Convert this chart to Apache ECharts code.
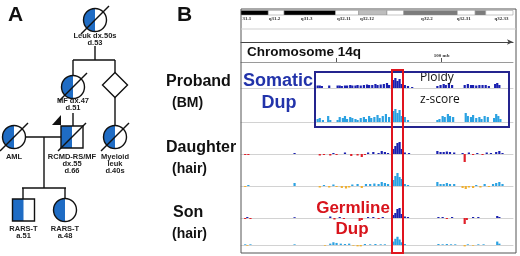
<!DOCTYPE html>
<html>
<head>
<meta charset="utf-8">
<script src="https://cdn.jsdelivr.net/npm/echarts@6/dist/echarts.min.js"></script>
<style>
  html, body { margin: 0; padding: 0; background: #fff; }
  #chart { width: 520px; height: 256px; }
</style>
</head>
<body>
<div id="chart"></div>
<script>
// window of chromosome 14q shown in panel B, in Mb
const xMin = 80.9, xMax = 106.8;

// cytobands [start, end, stain]
const bands = [
  [80.9, 83.5, 'black'], [83.5, 85.0, 'white'], [85.0, 89.9, 'black'],
  [89.9, 92.1, 'white'], [92.1, 94.8, 'light'], [94.8, 96.4, 'white'],
  [96.4, 101.5, 'dark'], [101.5, 103.2, 'white'], [103.2, 104.2, 'dark'],
  [104.2, 106.8, 'white']
];
const bandLabels = [
  [81.45, '31.1'], [84.1, 'q31.2'], [87.15, 'q31.3'], [90.7, 'q32.11'],
  [92.9, 'q32.12'], [98.6, 'q32.2'], [102.1, 'q32.31'], [105.7, 'q32.33']
];
const axisTicks = [90, 100];
const axisTickLabels = [100];

// copy-number tracks: [Mb, signal]
const probandPloidy = [
  [88.2,2.5],[88.4,2.5],[88.6,2],[89.3,2.5],[90.1,2.5],[90.3,2.5],[90.5,2],[90.8,2.5],[91.0,2.5],[91.3,3],
  [91.5,2.5],[91.8,2.5],[92.0,3],[92.3,2.5],[92.6,3],[92.9,3.5],[93.1,3],[93.4,3],[93.7,4],[93.9,3],
  [94.2,3.5],[94.5,4],[94.8,5],[95.0,3],[95.4,8],[95.6,10],[95.8,7],[96.0,9],[96.2,4],[96.5,3],
  [96.8,2],[97.2,1],[99.6,2],[99.9,3],[100.2,4],[100.4,3],[100.7,5],[101.0,3],[102.2,3],[102.5,4],
  [102.8,3],[103.0,3],[103.3,2.5],[103.6,3],[103.9,3],[104.2,3],[104.5,2],[105.1,4],[105.3,5],[105.5,3]
];
const probandZ = [
  [88.2,3],[88.4,4],[88.7,2],[89.2,6],[89.4,2],[90.1,2],[90.3,5],[90.6,4],[90.8,6],[91.0,3],
  [91.3,5],[91.5,4],[91.8,3],[92.0,2],[92.3,4],[92.6,5],[92.8,3],[93.1,6],[93.3,4],[93.6,5],
  [93.9,7],[94.1,4],[94.4,6],[94.7,8],[95.0,5],[95.4,11],[95.6,13],[95.8,9],[96.0,12],[96.2,6],
  [96.5,5],[96.8,2],[99.6,2],[99.8,3],[100.1,6],[100.3,5],[100.6,8],[100.8,6],[101.1,5],[102.3,9],
  [102.5,6],[102.8,5],[103.0,7],[103.3,4],[103.6,5],[103.8,3],[104.1,6],[104.4,5],[105.0,4],[105.2,8],
  [105.4,6],[105.6,3]
];
const daughterPloidy = [
  [81.3,-1],[81.6,-1],[86.0,1],[88.4,-1.5],[88.8,-1],[89.4,-1.5],[89.7,1],[90.0,-1],[90.8,1.5],[91.4,-2],
  [92.0,-1.5],[92.4,-3],[92.7,-1],[93.0,1.5],[93.5,2],[94.0,1],[94.3,3],[94.6,2],[94.9,1],[95.4,5],
  [95.6,8],[95.8,11],[96.0,12],[96.2,5],[96.5,1.5],[96.9,1],[99.6,3],[99.9,2],[100.2,2],[100.5,2.5],
  [100.8,2],[101.2,1.5],[102.0,1],[102.2,-8],[102.6,1.5],[103.0,-1],[103.4,1],[103.9,-1],[104.3,1.5],[104.7,1],
  [105.2,2],[105.5,3],[105.8,1]
];
const daughterZ = [
  [81.3,-1],[81.6,1],[86.0,3],[88.4,-1.5],[88.8,1],[89.3,-1.5],[89.7,1.5],[90.0,-1],[90.5,-2],[90.9,-2.5],
  [91.2,-1.5],[91.5,1.5],[92.0,2],[92.4,-2],[92.8,2],[93.2,2],[93.6,2.5],[94.0,2],[94.3,4],[94.6,3],
  [94.9,2],[95.4,6],[95.6,10],[95.8,13],[96.0,9],[96.2,7],[96.5,2],[96.8,1],[99.6,4],[99.9,2],
  [100.2,2],[100.5,3],[100.8,2],[101.2,2],[102.0,-2],[102.3,-3],[102.6,-1.5],[103.0,-2],[103.3,1],[103.7,-1.5],
  [104.1,2],[104.5,-1],[104.9,2],[105.2,3],[105.5,4],[105.8,2]
];
const sonPloidy = [
  [81.3,-1],[81.5,1],[81.8,-1],[86.0,0.8],[89.4,1.5],[89.8,-1.5],[90.3,1],[90.7,-1],[92.2,-3],[92.4,-2],
  [93.0,1],[93.5,1],[94.0,-1],[94.4,1],[95.4,3],[95.6,5],[95.8,9],[96.0,10],[96.2,4],[96.5,1.5],
  [96.8,1],[99.7,1],[100.1,1],[100.5,-1],[101.0,1],[102.2,-6],[102.4,-2],[103.0,1],[103.5,1],[105.3,2],
  [105.5,1]
];
const sonZ = [
  [81.3,1],[81.5,-1],[81.8,1],[86.0,1],[88.9,-1],[89.4,2],[89.7,4],[90.0,3],[90.4,2],[90.8,1.5],
  [91.2,2],[91.6,-1],[92.0,-2],[92.3,-2],[92.7,1.5],[93.2,1],[93.7,1.5],[94.2,1],[94.6,1],[95.4,5],
  [95.6,9],[95.8,12],[96.0,8],[96.2,4],[96.5,1.5],[99.7,1.5],[100.1,1],[100.5,1.5],[100.9,1],[101.3,1],
  [102.2,-2],[102.5,1],[103.0,-1],[103.5,1],[104.0,1],[105.3,5],[105.5,2]
];

// pedigree nodes: [x, y, shape, affected, deceased, proband]
const pedNodes = [
  [95, 20, 'circle', 1, 1, 0],
  [73, 87, 'circle', 1, 1, 0],
  [115, 85, 'diamond', 0, 0, 0],
  [14, 137, 'circle', 1, 1, 0],
  [72, 137, 'square', 1, 1, 1],
  [115, 137, 'circle', 1, 1, 0],
  [23.5, 210, 'square', 1, 0, 0],
  [65, 210, 'circle', 1, 0, 0]
];
const pedLabels = [
  'Leuk dx.50s\nd.53', 'MF dx.47\nd.51', '', 'AML', 'RCMD-RS/MF\ndx.55\nd.66',
  'Myeloid\nleuk\nd.40s', 'RARS-T\na.51', 'RARS-T\na.48'
];
const pedLabelY = [36, 101, 0, 157, 157, 157, 229, 229];
// relationship lines [x1, y1, x2, y2]
const pedLines = [
  [95, 46, 95, 60], [73, 60, 115, 60], [73, 60, 73, 76], [115, 60, 115, 73],
  [115, 97, 115, 126], [73, 113, 73, 126], [25, 137, 61, 137], [44, 137, 44, 188],
  [22, 188, 66, 188], [23, 188, 23, 199], [65, 188, 65, 199]
];

const FILL = '#1f6cc4';
const bandFill = { black: '#000', white: '#fff', light: '#bdbdbd', dark: '#7c7c7c' };
const trackTops = [72, 106, 138, 170, 202, 234];
const tracks = [
  [probandPloidy, 'ploidy'], [probandZ, 'z'],
  [daughterPloidy, 'ploidy'], [daughterZ, 'z'],
  [sonPloidy, 'ploidy'], [sonZ, 'z']
];

function trackColor(kind) {
  return function (p) {
    const v = p.value[1];
    if (kind === 'ploidy') return v >= 0 ? '#1a20b0' : '#e0202a';
    return v >= 0 ? '#2ba2e2' : '#f0b030';
  };
}

function renderNode(params, api) {
  const n = pedNodes[params.dataIndex];
  const c = api.coord([n[0], n[1]]);
  const cx = c[0], cy = c[1];
  const kids = [];
  const stroke = { stroke: '#111', lineWidth: 1.4 };
  if (n[2] === 'circle') {
    const r = 11.5;
    if (n[3]) kids.push({ type: 'sector', shape: { cx, cy, r0: 0, r, startAngle: Math.PI / 2, endAngle: Math.PI * 1.5, clockwise: true }, style: { fill: FILL } });
    kids.push({ type: 'circle', shape: { cx, cy, r }, style: Object.assign({ fill: 'none' }, stroke) });
  } else if (n[2] === 'square') {
    const h = 11;
    if (n[3]) kids.push({ type: 'rect', shape: { x: cx - h, y: cy - h, width: h, height: 2 * h }, style: { fill: FILL } });
    kids.push({ type: 'rect', shape: { x: cx - h, y: cy - h, width: 2 * h, height: 2 * h }, style: Object.assign({ fill: 'none' }, stroke) });
  } else {
    const h = 12.5;
    kids.push({ type: 'polygon', shape: { points: [[cx, cy - h], [cx + h, cy], [cx, cy + h], [cx - h, cy]] }, style: Object.assign({ fill: '#fff' }, stroke) });
  }
  if (n[4]) kids.push({ type: 'line', shape: { x1: cx - 14, y1: cy + 14, x2: cx + 14, y2: cy - 14 }, style: stroke });
  if (n[5]) kids.push({ type: 'polygon', shape: { points: [[cx - 20, cy - 12], [cx - 11, cy - 12], [cx - 11, cy - 22]] }, style: { fill: '#111' } });
  const lbl = pedLabels[params.dataIndex];
  if (lbl) {
    const ly = api.coord([0, pedLabelY[params.dataIndex]])[1];
    kids.push({ type: 'text', style: { text: lbl, x: cx, y: ly - 3.5, align: 'center', verticalAlign: 'top', font: 'bold 7.5px "Liberation Sans"', lineHeight: 6.8, fill: '#222' } });
  }
  return { type: 'group', children: kids };
}

function renderPedLine(params, api) {
  const a = api.coord([api.value(0), api.value(1)]);
  const b = api.coord([api.value(2), api.value(3)]);
  return { type: 'line', shape: { x1: a[0], y1: a[1], x2: b[0], y2: b[1] }, style: { stroke: '#111', lineWidth: 1.4 } };
}

function renderBand(params, api) {
  const a = api.coord([api.value(0), 0]);
  const b = api.coord([api.value(1), 0]);
  const cs = params.coordSys;
  return { type: 'rect', shape: { x: a[0], y: cs.y, width: b[0] - a[0], height: cs.height },
    style: { fill: bandFill[bands[params.dataIndex][2]], stroke: '#8a8a8a', lineWidth: 0.5 } };
}

function renderBandLabel(params, api) {
  const a = api.coord([api.value(0), 0]);
  const cs = params.coordSys;
  return { type: 'text', style: { text: bandLabels[params.dataIndex][1], x: a[0], y: cs.y + cs.height + 4,
    align: 'center', verticalAlign: 'middle', font: 'bold 5px "Liberation Serif"', fill: '#333' } };
}

const grids = [{ left: 0, top: 0, width: 160, height: 256 }];
const xAxes = [{ gridIndex: 0, type: 'value', min: 0, max: 160, show: false }];
const yAxes = [{ gridIndex: 0, type: 'value', min: 0, max: 256, inverse: true, show: false }];
const series = [
  { type: 'custom', xAxisIndex: 0, yAxisIndex: 0, renderItem: renderPedLine, data: pedLines, encode: { x: [0, 2], y: [1, 3] }, silent: true },
  { type: 'custom', xAxisIndex: 0, yAxisIndex: 0, renderItem: renderNode, data: pedNodes.map(n => [n[0], n[1]]), silent: true, z: 3 }
];

tracks.forEach((t, i) => {
  const gi = i + 1;
  grids.push({ left: 241, right: 7, top: trackTops[i], height: 32 });
  xAxes.push({ gridIndex: gi, type: 'value', min: xMin, max: xMax,
    axisLine: { show: true, onZero: true, lineStyle: { color: '#d2d2d2', width: 1 } },
    axisTick: { show: false }, axisLabel: { show: false }, splitLine: { show: false } });
  yAxes.push({ gridIndex: gi, type: 'value', min: -16, max: 16, show: false });
  series.push({ type: 'bar', xAxisIndex: gi, yAxisIndex: gi, data: t[0], barWidth: 2.2,
    itemStyle: { color: trackColor(t[1]) }, silent: true });
});

// ideogram (grid 7)
grids.push({ left: 241, right: 7, top: 10.5, height: 4.5 });
xAxes.push({ gridIndex: 7, type: 'value', min: xMin, max: xMax, show: false });
yAxes.push({ gridIndex: 7, type: 'value', min: 0, max: 1, show: false });
series.push({ type: 'custom', xAxisIndex: 7, yAxisIndex: 7, renderItem: renderBand, data: bands.map(b => [b[0], b[1]]), encode: { x: [0, 1] }, silent: true });
series.push({ type: 'custom', xAxisIndex: 7, yAxisIndex: 7, renderItem: renderBandLabel, data: bandLabels.map(b => [b[0], 0]), silent: true });

// chromosome ruler (grid 8)
grids.push({ left: 241, right: 7, top: 42, height: 20 });
xAxes.push({ gridIndex: 8, type: 'value', min: xMin, max: xMax, position: 'bottom',
  axisLine: { lineStyle: { color: '#9a9a9a', width: 1 } },
  axisTick: { inside: true, length: 4, customValues: axisTicks, lineStyle: { color: '#555' } },
  axisLabel: { inside: true, margin: 4, customValues: axisTickLabels, formatter: v => v + ' mb',
    fontSize: 5, fontWeight: 'bold', fontFamily: 'Liberation Serif', color: '#333' },
  splitLine: { show: false } });
xAxes.push({ gridIndex: 8, type: 'value', min: xMin, max: xMax, position: 'top',
  axisLine: { lineStyle: { color: '#444', width: 1.2 }, symbol: ['none', 'arrow'], symbolSize: [4, 6] },
  axisTick: { show: false }, axisLabel: { show: false }, splitLine: { show: false } });
yAxes.push({ gridIndex: 8, type: 'value', min: 0, max: 1, show: false });

const bold = (size) => 'bold ' + size + 'px "Liberation Sans"';
const graphic = [
  { type: 'rect', shape: { x: 241, y: 9, width: 275, height: 244 }, style: { fill: 'none', stroke: '#555', lineWidth: 1 }, z: 1 },
  { type: 'line', shape: { x1: 241, y1: 29, x2: 516, y2: 29 }, style: { stroke: '#cfcfcf', lineWidth: 1 }, z: 1 },
  { type: 'text', style: { text: 'A', x: 8, y: 15, font: bold(21), fill: '#111', verticalAlign: 'middle' } },
  { type: 'text', style: { text: 'B', x: 177, y: 15, font: bold(21), fill: '#111', verticalAlign: 'middle' } },
  { type: 'text', style: { text: 'Proband', x: 166, y: 82, font: bold(16), fill: '#111', verticalAlign: 'middle' } },
  { type: 'text', style: { text: '(BM)', x: 172, y: 103, font: bold(14), fill: '#111', verticalAlign: 'middle' } },
  { type: 'text', style: { text: 'Daughter', x: 166, y: 148, font: bold(16), fill: '#111', verticalAlign: 'middle' } },
  { type: 'text', style: { text: '(hair)', x: 172, y: 169, font: bold(14), fill: '#111', verticalAlign: 'middle' } },
  { type: 'text', style: { text: 'Son', x: 173, y: 213, font: bold(16), fill: '#111', verticalAlign: 'middle' } },
  { type: 'text', style: { text: '(hair)', x: 172, y: 234, font: bold(14), fill: '#111', verticalAlign: 'middle' } },
  { type: 'text', style: { text: 'Chromosome 14q', x: 247, y: 52, font: bold(13.5), fill: '#111', verticalAlign: 'middle' } },
  { type: 'text', style: { text: 'Somatic', x: 278, y: 81, font: bold(18), fill: '#2233aa', align: 'center', verticalAlign: 'middle' } },
  { type: 'text', style: { text: 'Dup', x: 279, y: 103, font: bold(18), fill: '#2233aa', align: 'center', verticalAlign: 'middle' } },
  { type: 'text', style: { text: 'Germline', x: 353, y: 208, font: bold(17), fill: '#d8141c', align: 'center', verticalAlign: 'middle' }, z: 20 },
  { type: 'text', style: { text: 'Dup', x: 352, y: 229, font: bold(17), fill: '#d8141c', align: 'center', verticalAlign: 'middle' }, z: 20 },
  { type: 'text', style: { text: 'Ploidy', x: 420, y: 78, font: '12px "Open Sans"', fill: '#111', verticalAlign: 'middle' }, z: 20 },
  { type: 'text', style: { text: 'z-score', x: 420, y: 100, font: '12px "Open Sans"', fill: '#111', verticalAlign: 'middle' }, z: 20 },
  { type: 'rect', shape: { x: 315, y: 72, width: 194, height: 55 }, style: { fill: 'none', stroke: '#24248e', lineWidth: 2 }, z: 20 },
  { type: 'rect', shape: { x: 392, y: 70, width: 11, height: 183 }, style: { fill: 'none', stroke: '#e0141e', lineWidth: 2 }, z: 21 }
];

const chart = echarts.init(document.getElementById('chart'));
chart.setOption({
  animation: false,
  backgroundColor: '#fff',
  grid: grids,
  xAxis: xAxes,
  yAxis: yAxes,
  series: series,
  graphic: graphic
});
</script>
</body>
</html>
